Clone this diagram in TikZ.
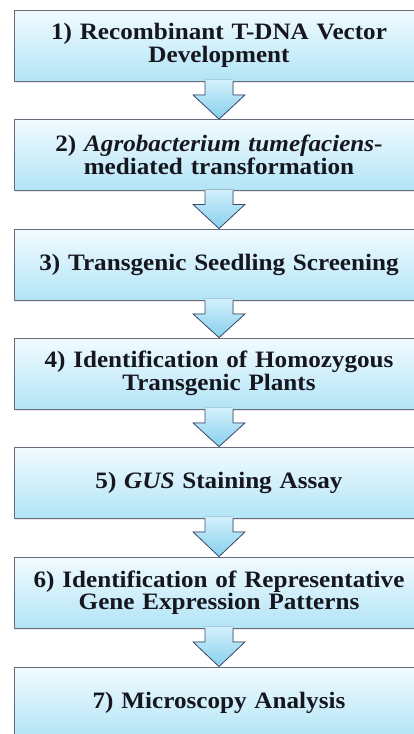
\documentclass[tikz,border=0pt]{standalone}
\usepackage{fontspec}
\setmainfont{Liberation Serif}
\newfontfamily\boxfont[FakeStretch=1.07]{Liberation Serif}
\usetikzlibrary{calc,shadows}
\definecolor{boxtop}{RGB}{242,251,255}
\definecolor{boxbot}{RGB}{178,228,246}
\definecolor{boxline}{RGB}{105,108,122}
\definecolor{arrtop}{RGB}{210,240,251}
\definecolor{arrbot}{RGB}{135,208,238}
\definecolor{arrline}{RGB}{62,74,108}
\definecolor{txt}{RGB}{22,22,30}
\tikzset{
  stepbox/.style={draw=boxline, line width=0.8pt, top color=boxtop, bottom color=boxbot,
    minimum width=410pt, minimum height=71pt, inner sep=0pt, text width=405pt, align=center,
    text=txt, font=\boxfont\fontsize{23.5}{22.5}\selectfont\bfseries,
    drop shadow={opacity=0.18, shadow xshift=0.5pt, shadow yshift=-1.5pt}},
  arrfill/.style={top color=arrtop, bottom color=arrbot},
  arrdraw/.style={draw=arrline, line width=0.8pt, line join=miter}
}
\newcommand{\flowarrow}[2]{%
  \fill[arrfill] ($(#1.south)+(-14,-1.5)$) -- ($(#1.south)+(-14,13.5)$) -- ($(#1.south)+(-26,13.5)$)
     -- (#2.north) -- ($(#1.south)+(26,13.5)$) -- ($(#1.south)+(14,13.5)$) -- ($(#1.south)+(14,-1.5)$) -- cycle;
  \draw[arrdraw] ($(#1.south)+(-14,0)$) -- ($(#1.south)+(-14,13.5)$) -- ($(#1.south)+(-26,13.5)$)
     -- (#2.north) -- ($(#1.south)+(26,13.5)$) -- ($(#1.south)+(14,13.5)$) -- ($(#1.south)+(14,0)$);
}
\begin{document}
\begin{tikzpicture}[x=1pt,y=-1pt]
\useasboundingbox (0,0) rectangle (414,734);
\node[stepbox] (b1) at (219,45.5) {1) Recombinant T-DNA Vector\\Development};
\node[stepbox] (b2) at (219,155) {2) \textit{Agrobacterium tumefaciens}-\\mediated transformation};
\node[stepbox] (b3) at (219,264.5) {3) Transgenic Seedling Screening};
\node[stepbox] (b4) at (219,373.5) {4) Identification of Homozygous\\Transgenic Plants};
\node[stepbox] (b5) at (219,482.5) {5) \textit{GUS} Staining Assay};
\node[stepbox] (b6) at (219,592.5) {6) Identification of Representative\\Gene Expression Patterns};
\node[stepbox] (b7) at (219,702.5) {7) Microscopy Analysis};
\flowarrow{b1}{b2}
\flowarrow{b2}{b3}
\flowarrow{b3}{b4}
\flowarrow{b4}{b5}
\flowarrow{b5}{b6}
\flowarrow{b6}{b7}
\end{tikzpicture}
\end{document}
